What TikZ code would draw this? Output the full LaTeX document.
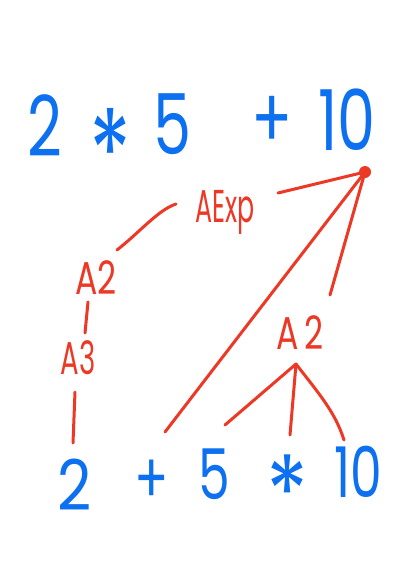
\documentclass[tikz,border=0pt]{standalone}
\usepackage{fontspec}
\setmainfont{Poppins}
\definecolor{penblue}{RGB}{12,112,240}
\definecolor{penred}{RGB}{236,56,36}
\newcommand{\narrow}[1]{\scalebox{0.72}[1]{#1}}
\begin{document}
\begin{tikzpicture}[x=1pt,y=-1pt,
  blu/.style={text=penblue,font=\fontsize{84}{84}\selectfont,inner sep=0pt},
  blus/.style={text=penblue,font=\fontsize{70}{70}\selectfont,inner sep=0pt},
  star/.style={text=penblue,font=\fontsize{120}{120}\selectfont,inner sep=0pt},
  stars/.style={text=penblue,font=\fontsize{90}{90}\selectfont,inner sep=0pt},
  rd/.style={text=penred,font=\fontsize{46}{46}\selectfont,inner sep=0pt},
  edge/.style={draw=penred,line width=3pt,line cap=round}]
\useasboundingbox (0,0) rectangle (393,565);
% top expression
\node[blu] (t2) at (45,126) {\narrow{2}};
\node[star] (tstar) at (110,196) {\smash{\narrow{*}}};
\node[blu] (t5) at (172,124) {\narrow{5}};
\node[blu] (tplus) at (272,122) {\narrow{+}};
\node[blu] (t10) at (347,120) {\narrow{10}};
% bottom expression
\node[blus] (b2) at (75,485) {\scalebox{0.85}[1]{2}};
\node[blus] (bplus) at (152,482) {\narrow{+}};
\node[blus] (b5) at (214,474) {\narrow{5}};
\node[stars] (bstar) at (287,529) {\smash{\scalebox{0.96}[1.13]{*}}};
\node[blus] (b10) at (358,472) {\narrow{10}};
% red labels
\node[rd] (aexp) at (225,212) {\scalebox{0.55}[1]{AExp}};
\node[rd] (a2l) at (96,278) {\narrow{A2}};
\node[rd] (a3) at (78,358) {\scalebox{0.6}[1]{A3}};
\node[rd] (a2r) at (300,333) {\narrow{A\,2}};
\fill[penred] (365,172) circle (6);
\coordinate (root) at (365,172);
% connectors
\coordinate (e1) at (278,193);
\coordinate (e2) at (165,432);
\coordinate (e3) at (330,295);
\draw[edge] (e1) -- (root);
\draw[edge] (e2) -- (root);
\draw[edge] (e3) -- (root);
\coordinate (l1) at (117,250);
\coordinate (l2) at (176,204);
\draw[edge] (l1) .. controls (140,232) and (158,210) .. (l2);
\coordinate (m1) at (88,302);
\coordinate (m2) at (85,333);
\draw[edge] (m1) -- (m2);
\coordinate (n1) at (75,392);
\coordinate (n2) at (73,443);
\draw[edge] (n1) -- (n2);
\coordinate (r0) at (296,364);
\coordinate (r1) at (225,425);
\coordinate (r2) at (290,435);
\coordinate (r3) at (344,440);
\draw[edge] (r0) -- (r1);
\draw[edge] (r0) -- (r2);
\draw[edge] (r0) .. controls (320,395) and (335,412) .. (r3);
\end{tikzpicture}
\end{document}
